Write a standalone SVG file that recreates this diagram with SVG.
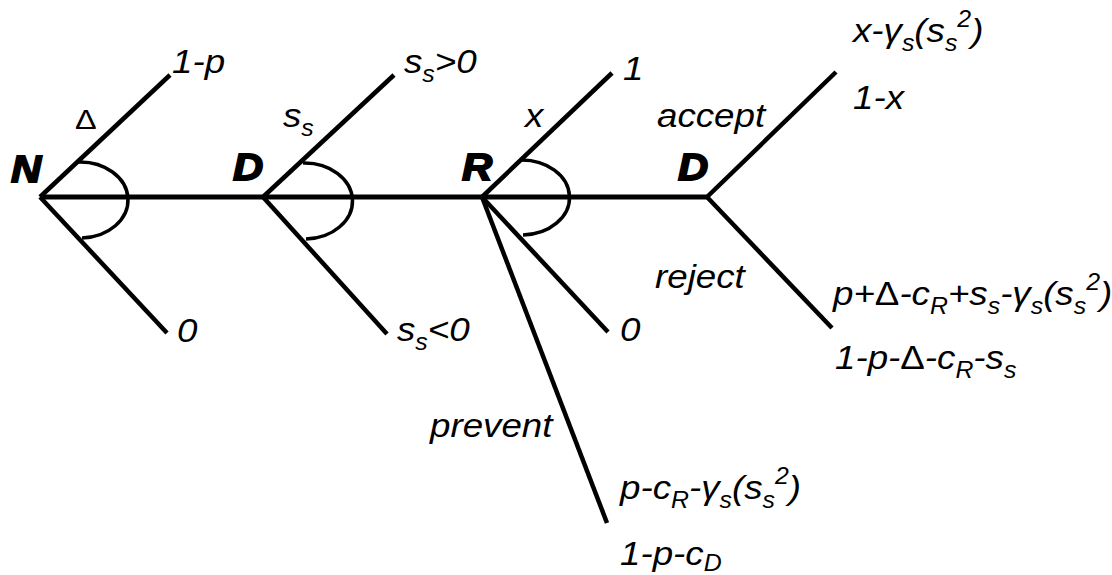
<svg xmlns="http://www.w3.org/2000/svg" width="1112" height="575" viewBox="0 0 1112 575">
<style>
.t{font-family:"Liberation Sans",Arial,sans-serif;font-style:italic;font-size:34px;fill:#000}
.n{font-family:"Liberation Sans",Arial,sans-serif;font-style:italic;font-weight:bold;font-size:37px;fill:#000;stroke:#000;stroke-width:1.8}
.sub{font-size:23px}
.up{font-style:normal}
.dl{font-family:"Liberation Sans",Arial,sans-serif;font-size:27px;fill:#000}
.br{stroke:#000;stroke-width:4.5;fill:none;stroke-linecap:butt}
.main{stroke:#000;stroke-width:5;fill:none}
.arc{stroke:#000;stroke-width:3.5;fill:none}
</style>
<rect width="1112" height="575" fill="#fff"/>
<g id="connectors">
<line class="main" x1="40" y1="197" x2="709" y2="197"/>
<line class="br" x1="40" y1="197" x2="170" y2="75"/>
<line class="br" x1="40" y1="197" x2="167" y2="333"/>
<line class="br" x1="263" y1="197" x2="394" y2="75"/>
<line class="br" x1="263" y1="197" x2="387" y2="334"/>
<line class="br" x1="482" y1="197" x2="612" y2="73"/>
<line class="br" x1="482" y1="197" x2="608" y2="332"/>
<line class="br" x1="482" y1="197" x2="607" y2="523"/>
<line class="br" x1="707" y1="197" x2="836" y2="72"/>
<line class="br" x1="707" y1="197" x2="832" y2="328"/>
</g>
<g id="node-N">
<path class="arc" d="M78 162 A48 38 0 0 1 82 238"/>
<text class="n" transform="translate(11,182) scale(1.13,1)">N</text>
<text class="dl" transform="translate(75,129) scale(1.2,1)">Δ</text>
<text class="t" transform="translate(172,73) scale(1.08,1)">1-p</text>
<text class="t" transform="translate(177,342) scale(1.08,1)">0</text>
</g>
<g id="node-D1">
<path class="arc" d="M303 163 A48 38 0 0 1 306 239"/>
<text class="n" transform="translate(233,180) scale(1.13,1)">D</text>
<text class="t" transform="translate(283,127) scale(1.08,1)">s<tspan class="sub" dy="9">s</tspan></text>
<text class="t" transform="translate(404,73) scale(1.08,1)">s<tspan class="sub" dy="9">s</tspan><tspan dy="-9">&gt;0</tspan></text>
<text class="t" transform="translate(397,341) scale(1.08,1)">s<tspan class="sub" dy="9">s</tspan><tspan dy="-9">&lt;0</tspan></text>
</g>
<g id="node-R">
<path class="arc" d="M520 160 A48 37.5 0 0 1 523 235"/>
<text class="n" transform="translate(462,180) scale(1.13,1)">R</text>
<text class="t" transform="translate(525,127) scale(1.08,1)">x</text>
<text class="t" transform="translate(623,80) scale(1.08,1)">1</text>
<text class="t" transform="translate(620,341) scale(1.08,1)">0</text>
<text class="t" transform="translate(430,437) scale(1.08,1)">prevent</text>
<text class="t" transform="translate(620,499) scale(1.08,1)">p-c<tspan class="sub" dy="9">R</tspan><tspan dy="-9">-γ</tspan><tspan class="sub" dy="9">s</tspan><tspan dy="-9">(s</tspan><tspan class="sub" dy="9">s</tspan><tspan class="sub" dy="-24">2</tspan><tspan dy="15">)</tspan></text>
<text class="t" transform="translate(620,565) scale(1.08,1)">1-p-c<tspan class="sub" dy="6">D</tspan></text>
</g>
<g id="node-D2">
<text class="n" transform="translate(678,180) scale(1.13,1)">D</text>
<text class="t" transform="translate(657,127) scale(1.08,1)">accept</text>
<text class="t" transform="translate(655,288) scale(1.08,1)">reject</text>
<text class="t" transform="translate(853,42) scale(1.08,1)">x-γ<tspan class="sub" dy="9">s</tspan><tspan dy="-9">(s</tspan><tspan class="sub" dy="9">s</tspan><tspan class="sub" dy="-24">2</tspan><tspan dy="15">)</tspan></text>
<text class="t" transform="translate(853,109) scale(1.08,1)">1-x</text>
<text class="t" transform="translate(833,305) scale(1.08,1)">p+<tspan class="up">Δ</tspan>-c<tspan class="sub" dy="9">R</tspan><tspan dy="-9">+s</tspan><tspan class="sub" dy="9">s</tspan><tspan dy="-9">-γ</tspan><tspan class="sub" dy="9">s</tspan><tspan dy="-9">(s</tspan><tspan class="sub" dy="9">s</tspan><tspan class="sub" dy="-24">2</tspan><tspan dy="15">)</tspan></text>
<text class="t" transform="translate(835,369) scale(1.08,1)">1-p-<tspan class="up">Δ</tspan>-c<tspan class="sub" dy="9">R</tspan><tspan dy="-9">-s</tspan><tspan class="sub" dy="9">s</tspan></text>
</g>
</svg>
